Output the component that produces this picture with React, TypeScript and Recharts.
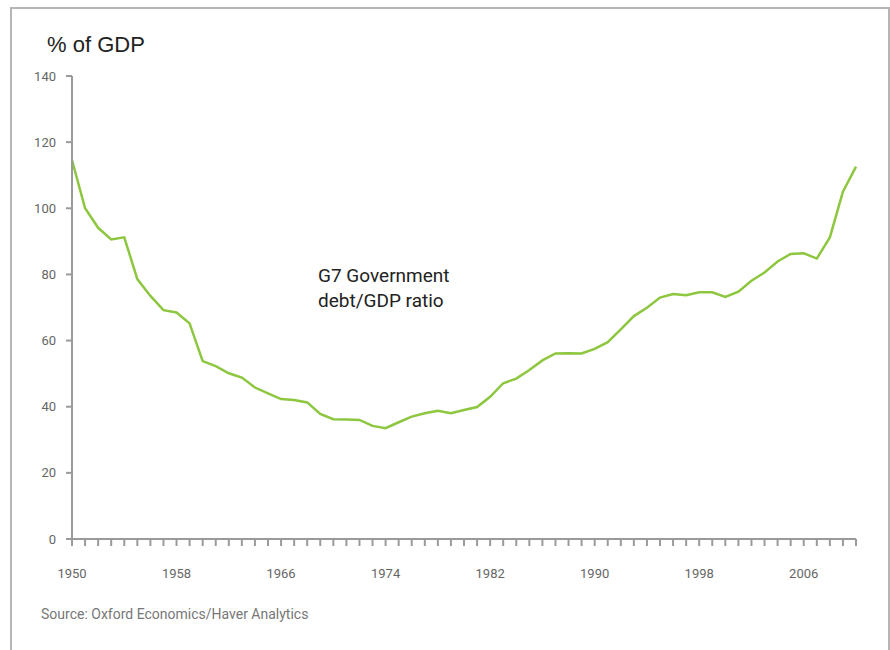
import { LineChart, Line, XAxis, YAxis } from "recharts"

const years = [
  1950, 1951, 1952, 1953, 1954, 1955, 1956, 1957, 1958, 1959,
  1960, 1961, 1962, 1963, 1964, 1965, 1966, 1967, 1968, 1969,
  1970, 1971, 1972, 1973, 1974, 1975, 1976, 1977, 1978, 1979,
  1980, 1981, 1982, 1983, 1984, 1985, 1986, 1987, 1988, 1989,
  1990, 1991, 1992, 1993, 1994, 1995, 1996, 1997, 1998, 1999,
  2000, 2001, 2002, 2003, 2004, 2005, 2006, 2007, 2008, 2009,
  2010,
]

// G7 government debt, % of GDP
const debtRatio = [
  114.6, 100.0, 94.1, 90.6, 91.2, 78.6, 73.5, 69.2, 68.5, 65.2,
  53.8, 52.3, 50.1, 48.8, 45.8, 44.0, 42.3, 42.0, 41.3, 37.8,
  36.2, 36.1, 36.0, 34.2, 33.5, 35.3, 37.0, 38.0, 38.8, 38.0,
  39.0, 39.9, 43.0, 47.1, 48.5, 51.1, 54.0, 56.1, 56.2, 56.1,
  57.5, 59.5, 63.4, 67.4, 69.9, 73.0, 74.1, 73.7, 74.6, 74.6,
  73.2, 74.8, 78.1, 80.6, 83.9, 86.2, 86.4, 84.8, 91.2, 105.0,
  112.6,
]

const labelYears = [1950, 1958, 1966, 1974, 1982, 1990, 1998, 2006]
const yTicks = [0, 20, 40, 60, 80, 100, 120, 140]

const data = years.map((year, i) => ({ year, debt: debtRatio[i] }))

const NARROW = "'Liberation Sans Narrow', 'Roboto', sans-serif"
const AXIS_GREY = "#9a9a9a"

export default function App() {
  return (
    <div
      style={{
        position: "absolute",
        left: 0,
        top: 0,
        width: 890,
        height: 650,
        overflow: "hidden",
        background: "#fff",
      }}
    >
      {/* frame, open at the bottom */}
      <div
        style={{
          position: "absolute",
          left: 10,
          top: 7,
          width: 876,
          height: 700,
          border: "2px solid #b5b5b5",
        }}
      />

      <div
        style={{
          position: "absolute",
          left: 47,
          top: 33,
          fontFamily: "'Liberation Sans', Arial, sans-serif",
          fontSize: 22,
          color: "#222",
          lineHeight: "24px",
        }}
      >
        % of GDP
      </div>

      <div style={{ position: "absolute", left: 0, top: 0 }}>
        <LineChart
          width={890}
          height={650}
          data={data}
          margin={{ top: 76, right: 34, bottom: 71, left: 0 }}
        >
          <XAxis
            dataKey="year"
            type="number"
            domain={[1950, 2010]}
            ticks={years}
            interval={0}
            tickFormatter={(v: number) => (labelYears.includes(v) ? String(v) : "")}
            tick={{ fill: "#666", fontSize: 13, fontFamily: NARROW }}
            tickSize={7}
            tickMargin={23}
            height={40}
            axisLine={{ stroke: AXIS_GREY, strokeWidth: 2 }}
            tickLine={{ stroke: AXIS_GREY, strokeWidth: 2 }}
          />
          <YAxis
            domain={[0, 140]}
            ticks={yTicks}
            interval={0}
            width={72}
            tick={{ fill: "#666", fontSize: 13, fontFamily: NARROW }}
            tickSize={6}
            tickMargin={10}
            axisLine={{ stroke: AXIS_GREY, strokeWidth: 2 }}
            tickLine={{ stroke: AXIS_GREY, strokeWidth: 2 }}
          />
          <Line
            dataKey="debt"
            type="linear"
            stroke="#8dc63f"
            strokeWidth={2.5}
            dot={false}
            isAnimationActive={false}
          />
        </LineChart>
      </div>

      <div
        style={{
          position: "absolute",
          left: 318,
          top: 263,
          fontFamily: NARROW,
          fontSize: 19,
          color: "#222",
          lineHeight: "25px",
        }}
      >
        G7 Government
        <br />
        debt/GDP ratio
      </div>

      <div
        style={{
          position: "absolute",
          left: 41,
          top: 606,
          fontFamily: NARROW,
          fontSize: 14,
          color: "#777",
        }}
      >
        Source: Oxford Economics/Haver Analytics
      </div>
    </div>
  )
}
